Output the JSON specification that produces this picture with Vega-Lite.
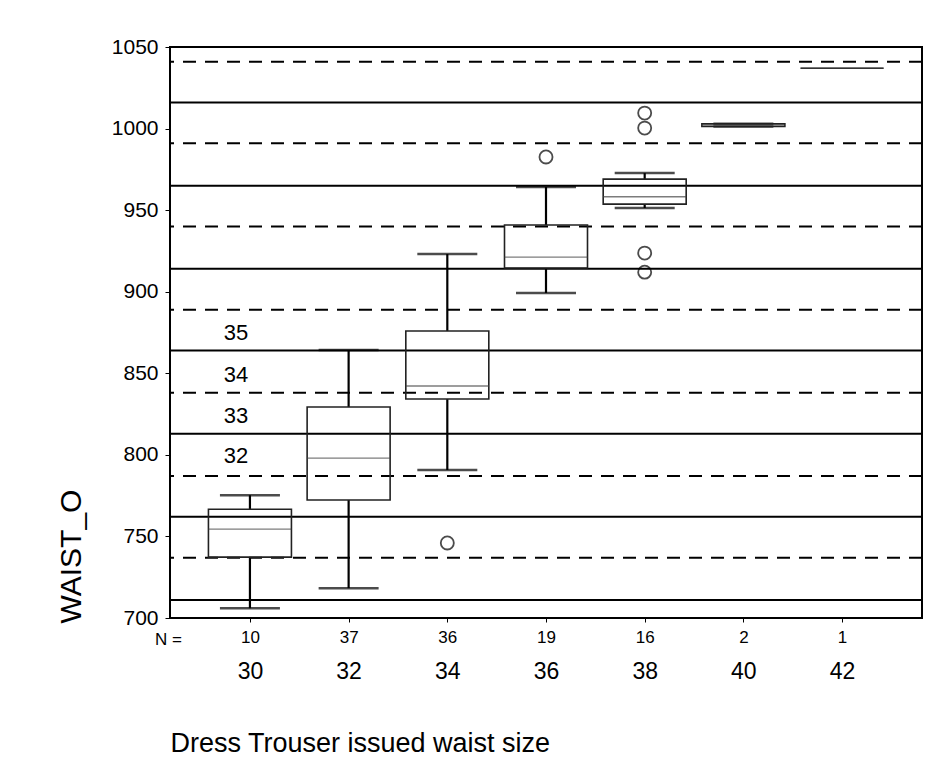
{
  "$schema": "https://vega.github.io/schema/vega-lite/v6.json",
  "autosize": "none",
  "width": 752,
  "height": 571,
  "padding": {"left": 170, "top": 47, "right": 30, "bottom": 155},
  "background": "white",
  "config": {
    "font": "Liberation Sans",
    "view": {"stroke": "black", "strokeWidth": 2},
    "axis": {"grid": false, "domain": false, "labelColor": "black", "titleColor": "black", "tickColor": "black", "titleFontWeight": "normal", "labelFont": "Liberation Sans", "titleFont": "Liberation Sans"}
  },
  "datasets": {
    "boxes": [
      {"size": 30, "n": 10, "lower": 706, "q1": 737.3, "median": 754.5, "q3": 766.7, "upper": 775.3},
      {"size": 32, "n": 37, "lower": 718.3, "q1": 772.3, "median": 798, "q3": 829.3, "upper": 864.2},
      {"size": 34, "n": 36, "lower": 790.7, "q1": 834.2, "median": 842.2, "q3": 875.9, "upper": 923.1},
      {"size": 36, "n": 19, "lower": 899.2, "q1": 914.5, "median": 921.2, "q3": 940.9, "upper": 964.2},
      {"size": 38, "n": 16, "lower": 951.3, "q1": 953.7, "median": 958.2, "q3": 969, "upper": 972.7},
      {"size": 40, "n": 2, "lower": 1001.3, "q1": 1001.3, "median": 1002.1, "q3": 1002.9, "upper": 1002.9},
      {"size": 42, "n": 1, "lower": null, "q1": 1037, "median": 1037, "q3": 1037, "upper": null}
    ],
    "outliers": [
      {"size": 34, "value": 746},
      {"size": 36, "value": 982.6},
      {"size": 38, "value": 1009.5},
      {"size": 38, "value": 1000.3},
      {"size": 38, "value": 923.7},
      {"size": 38, "value": 912}
    ],
    "refs": [
      {"inch": 28, "mm": 711, "parity": "even"},
      {"inch": 29, "mm": 737, "parity": "odd"},
      {"inch": 30, "mm": 762, "parity": "even"},
      {"inch": 31, "mm": 787, "parity": "odd"},
      {"inch": 32, "mm": 813, "parity": "even"},
      {"inch": 33, "mm": 838, "parity": "odd"},
      {"inch": 34, "mm": 864, "parity": "even"},
      {"inch": 35, "mm": 889, "parity": "odd"},
      {"inch": 36, "mm": 914, "parity": "even"},
      {"inch": 37, "mm": 940, "parity": "odd"},
      {"inch": 38, "mm": 965, "parity": "even"},
      {"inch": 39, "mm": 991, "parity": "odd"},
      {"inch": 40, "mm": 1016, "parity": "even"},
      {"inch": 41, "mm": 1041, "parity": "odd"}
    ],
    "inch_labels": [
      {"label": "35", "mm": 874.6},
      {"label": "34", "mm": 848.9},
      {"label": "33", "mm": 823.8},
      {"label": "32", "mm": 799.2}
    ]
  },
  "layer": [
    {
      "layer": [
        {
          "data": {"name": "refs"},
          "mark": {"type": "rule", "color": "black", "strokeWidth": 2},
          "encoding": {
            "y": {"field": "mm", "type": "quantitative", "title": "WAIST_O",
              "scale": {"domain": [700, 1050], "nice": false, "zero": false},
              "axis": {"orient": "left", "values": [700, 750, 800, 850, 900, 950, 1000, 1050], "format": "d", "labelFontSize": 21, "tickSize": 5, "labelPadding": 7, "titleFontSize": 30, "titleAngle": 270, "titleX": -90, "titleY": 509, "titleAlign": "center", "titleBaseline": "alphabetic"}},
            "strokeDash": {"field": "parity", "type": "nominal", "legend": null,
              "scale": {"domain": ["even", "odd"], "range": [[1, 0], [13, 9]]}}
          }
        },
        {
          "data": {"name": "boxes"},
          "mark": {"type": "rule", "color": "black", "strokeWidth": 2.2},
          "encoding": {
            "x": {"field": "size", "type": "ordinal", "title": "Dress Trouser issued waist size",
              "scale": {"type": "point", "padding": 0.81, "domain": [30, 32, 34, 36, 38, 40, 42]}},
            "y": {"field": "lower", "type": "quantitative", "title": "WAIST_O", "scale": {"domain": [700, 1050], "nice": false, "zero": false}},
            "y2": {"field": "q1"}
          }
        },
        {
          "data": {"name": "boxes"},
          "mark": {"type": "rule", "color": "black", "strokeWidth": 2.2},
          "encoding": {
            "x": {"field": "size", "type": "ordinal", "title": "Dress Trouser issued waist size",
              "scale": {"type": "point", "padding": 0.81, "domain": [30, 32, 34, 36, 38, 40, 42]}},
            "y": {"field": "q3", "type": "quantitative", "title": "WAIST_O", "scale": {"domain": [700, 1050], "nice": false, "zero": false}},
            "y2": {"field": "upper"}
          }
        },
        {
          "data": {"name": "boxes"},
          "transform": [{"fold": ["lower", "upper"], "as": ["end", "whisker"]}],
          "mark": {"type": "tick", "color": "black", "size": 60, "thickness": 2.5},
          "encoding": {
            "x": {"field": "size", "type": "ordinal", "title": "Dress Trouser issued waist size",
              "scale": {"type": "point", "padding": 0.81, "domain": [30, 32, 34, 36, 38, 40, 42]}},
            "y": {"field": "whisker", "type": "quantitative", "title": "WAIST_O", "scale": {"domain": [700, 1050], "nice": false, "zero": false}}
          }
        },
        {
          "data": {"name": "boxes"},
          "mark": {"type": "bar", "width": 83, "fill": "transparent", "stroke": "#222", "strokeWidth": 1.6},
          "encoding": {
            "x": {"field": "size", "type": "ordinal", "title": "Dress Trouser issued waist size",
              "scale": {"type": "point", "padding": 0.81, "domain": [30, 32, 34, 36, 38, 40, 42]},
              "axis": {"orient": "bottom", "ticks": false, "labelFontSize": 23, "labelPadding": 53, "labelAngle": 0, "labelAlign": "center", "titleFontSize": 27, "titleAnchor": "start", "titleAlign": "left", "titleX": 0, "titleY": 133, "titleBaseline": "alphabetic"}},
            "y": {"field": "q1", "type": "quantitative", "title": "WAIST_O", "scale": {"domain": [700, 1050], "nice": false, "zero": false}},
            "y2": {"field": "q3"}
          }
        },
        {
          "data": {"name": "outliers"},
          "mark": {"type": "point", "shape": "circle", "filled": false, "color": "black", "strokeWidth": 1.8, "size": 170},
          "encoding": {
            "x": {"field": "size", "type": "ordinal", "title": "Dress Trouser issued waist size",
              "scale": {"type": "point", "padding": 0.81, "domain": [30, 32, 34, 36, 38, 40, 42]}},
            "y": {"field": "value", "type": "quantitative", "title": "WAIST_O", "scale": {"domain": [700, 1050], "nice": false, "zero": false}}
          }
        },
        {
          "data": {"name": "inch_labels"},
          "mark": {"type": "text", "fontSize": 22, "dx": -14, "align": "center", "baseline": "middle", "color": "black"},
          "encoding": {
            "x": {"datum": 30, "type": "ordinal", "title": "Dress Trouser issued waist size",
              "scale": {"type": "point", "padding": 0.81, "domain": [30, 32, 34, 36, 38, 40, 42]}},
            "y": {"field": "mm", "type": "quantitative", "title": "WAIST_O", "scale": {"domain": [700, 1050], "nice": false, "zero": false}},
            "text": {"field": "label"}
          }
        }
      ]
    },
    {
      "data": {"name": "boxes"},
      "mark": {"type": "tick", "color": "#444", "size": 83, "thickness": 1.3},
      "encoding": {
        "x": {"field": "n", "type": "ordinal", "title": "N =",
          "sort": {"field": "size", "op": "min"},
          "scale": {"type": "point", "padding": 0.81},
          "axis": {"orient": "bottom", "ticks": true, "tickSize": 4, "labelFontSize": 17, "labelPadding": 7, "labelAngle": 0, "labelAlign": "center", "titleFontSize": 17, "titleX": -2, "titleY": 21, "titleAlign": "center", "titleBaseline": "middle", "titleAnchor": "start"}},
        "y": {"field": "median", "type": "quantitative", "title": "WAIST_O", "scale": {"domain": [700, 1050], "nice": false, "zero": false}}
      }
    }
  ],
  "resolve": {"scale": {"x": "independent"}, "axis": {"x": "independent"}}
}
